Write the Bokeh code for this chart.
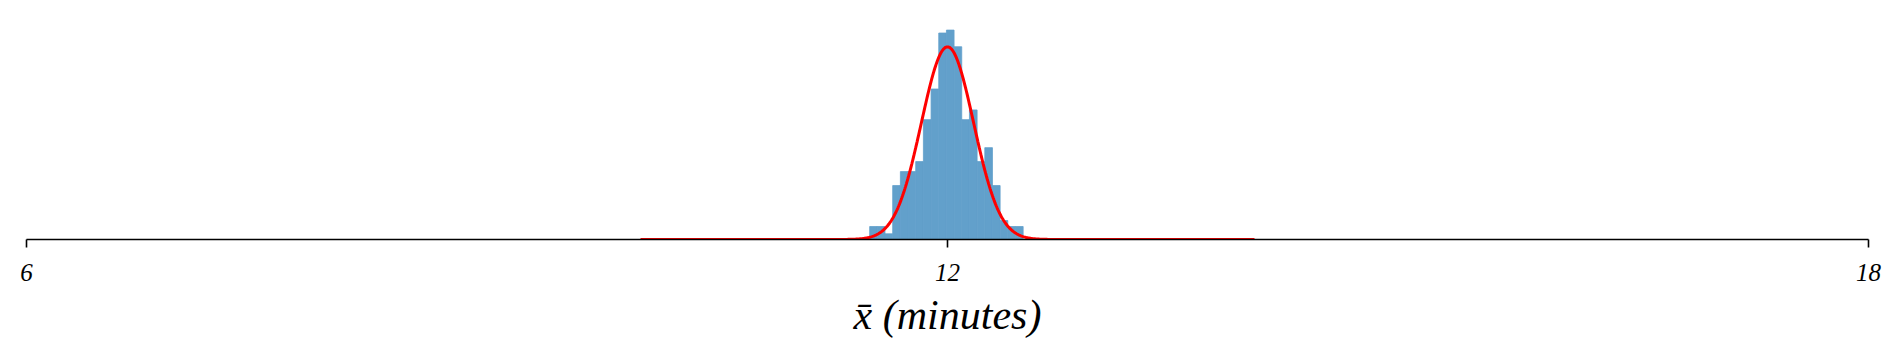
import numpy as np
from bokeh.plotting import figure
from bokeh.models import FixedTicker, ColumnDataSource
from bokeh.embed import file_html
from bokeh.resources import INLINE

# Histogram of sample means (density), bins of ~0.05 minutes
bin_left = [11.493, 11.543, 11.593, 11.643, 11.693, 11.743, 11.793, 11.843, 11.893, 11.943,
            11.993, 12.043, 12.093, 12.143, 12.193, 12.243, 12.293, 12.343, 12.393, 12.443]
bin_width = 0.0498
density = [0.158, 0.158, 0.069, 0.657, 0.827, 0.827, 0.949, 1.460, 1.833, 2.515,
           2.551, 2.348, 1.460, 1.578, 0.949, 1.119, 0.657, 0.231, 0.158, 0.158]

# Fitted normal curve parameters
mu = 12.0
sigma = 0.17
curve_min, curve_max = 10.0, 14.0

tick_values = [6, 12, 18]
x_label = "x\u0304 (minutes)"

SERIF = "'Liberation Serif', 'Times New Roman', Times, serif"

left = np.array(bin_left)
right = left + bin_width
src = ColumnDataSource(dict(left=left, right=right, top=density, bottom=[0] * len(density)))

xs = np.linspace(curve_min, curve_max, 800)
ys = np.exp(-0.5 * ((xs - mu) / sigma) ** 2) / (sigma * np.sqrt(2 * np.pi))

p = figure(width=1900, height=358, output_backend="svg", toolbar_location=None,
           x_range=(6, 18), y_range=(0, 2.68), y_axis_location=None,
           min_border_left=26, min_border_right=32, min_border_top=19, min_border_bottom=119)

# matplotlib C0 at alpha 0.7 over white
p.quad(left="left", right="right", top="top", bottom="bottom", source=src,
       fill_color="#62a0cb", line_color="#62a0cb", line_width=0.8)
p.line(xs, ys, line_color="#ff0000", line_width=3)

p.xgrid.visible = False
p.ygrid.visible = False
p.outline_line_color = None
p.background_fill_color = "white"
p.border_fill_color = "white"

ax = p.xaxis[0]
ax.ticker = FixedTicker(ticks=tick_values, minor_ticks=[])
ax.axis_line_width = 1.6
ax.axis_line_color = "black"
ax.major_tick_line_width = 1.6
ax.major_tick_line_color = "black"
ax.major_tick_out = 8
ax.major_tick_in = 0
ax.minor_tick_out = 0
ax.minor_tick_in = 0
ax.major_label_text_font = SERIF
ax.major_label_text_font_style = "italic"
ax.major_label_text_font_size = "25px"
ax.major_label_text_color = "black"
ax.major_label_standoff = 16
ax.axis_label = x_label
ax.axis_label_text_font = SERIF
ax.axis_label_text_font_style = "italic"
ax.axis_label_text_font_size = "42px"
ax.axis_label_text_color = "black"
ax.axis_label_standoff = 8

open("out.html", "w").write(file_html(p, INLINE))
